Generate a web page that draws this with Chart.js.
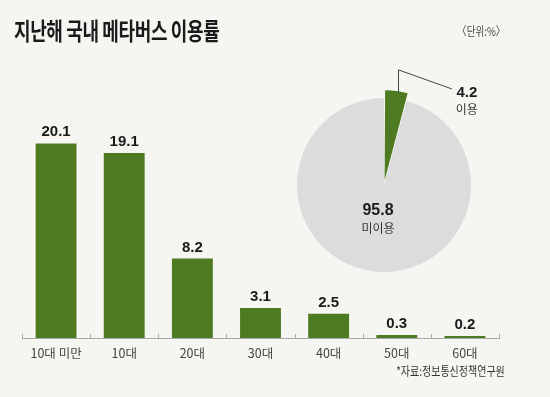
<!DOCTYPE html>
<html><head><meta charset="utf-8">
<script src="https://cdn.jsdelivr.net/npm/chart.js@4"></script>
<style>
html,body{margin:0;padding:0;background:#f5f6f1;}
#wrap{position:relative;width:550px;height:397px;overflow:hidden;background:#f5f6f1;}
#title{position:absolute;left:14px;top:15px;font-family:"Noto Sans CJK KR";font-weight:700;font-size:24px;line-height:30px;color:#1a1a1a;white-space:nowrap;transform:scaleX(0.75);transform-origin:left top;letter-spacing:-0.5px;}
#unit{position:absolute;right:45px;top:24px;font-family:"Noto Sans CJK KR";font-size:12px;line-height:14px;color:#444;white-space:nowrap;transform:scaleX(0.8);transform-origin:right top;}
#src{position:absolute;right:45px;top:363px;font-family:"Noto Sans CJK KR";font-size:12.5px;line-height:16px;color:#333;white-space:nowrap;transform:scaleX(0.8);transform-origin:right top;}
canvas{position:absolute;}
#bar{left:0;top:0;}
#pie{left:264px;top:65px;}
</style></head>
<body><div id="wrap">
<canvas id="bar" width="550" height="397"></canvas>
<canvas id="pie" width="240" height="240"></canvas>
<div id="title">지난해 국내 메타버스 이용률</div>
<div id="unit">〈단위:%〉</div>
<div id="src">*자료:정보통신정책연구원</div>
</div>
<script>
const categories = ["10대 미만","10대","20대","30대","40대","50대","60대"];
const usageByAge = [20.1,19.1,8.2,3.1,2.5,0.3,0.2];
const pieLabels = ["이용","미이용"];
const pieValues = [4.2,95.8];

const GREEN = "#4e7a22";
const GRAY = "#dcdcdc";

const barLabels = {
  id:"barLabels",
  afterDatasetsDraw(chart){
    const ctx = chart.ctx;
    const meta = chart.getDatasetMeta(0);
    ctx.save();
    ctx.font = "bold 15px 'Liberation Sans'";
    ctx.fillStyle = "#1a1a1a";
    ctx.textAlign = "center";
    ctx.textBaseline = "alphabetic";
    meta.data.forEach((b,i)=>{
      ctx.fillText(usageByAge[i].toFixed(1), b.x, b.y - 7);
    });
    ctx.restore();
  },
  afterDraw(chart){
    const s = chart.scales.x;
    const ctx = chart.ctx;
    const n = categories.length;
    ctx.save();
    ctx.strokeStyle = "#aaaaaa";
    ctx.lineWidth = 1;
    for(let i=0;i<=n;i++){
      const x = Math.round(s.left + i*(s.width/n)) + 0.5;
      ctx.beginPath();
      ctx.moveTo(x, s.top);
      ctx.lineTo(x, s.top - 4);
      ctx.stroke();
    }
    ctx.restore();
  }
};

new Chart(document.getElementById("bar"), {
  type:"bar",
  data:{labels:categories, datasets:[{data:usageByAge, backgroundColor:GREEN, borderWidth:0, barPercentage:0.6, categoryPercentage:1}]},
  options:{
    responsive:false, animation:false, devicePixelRatio:1,
    layout:{padding:{left:22,right:51,top:96,bottom:28}},
    plugins:{legend:{display:false},tooltip:{enabled:false}},
    scales:{
      x:{offset:true, grid:{display:false, drawTicks:false}, border:{display:true,color:"#aaaaaa",width:1},
         ticks:{padding:8, color:"#444", font:{family:"'Noto Sans CJK KR'", size:12.5}}},
      y:{display:false, min:0, max:25}
    }
  },
  plugins:[barLabels]
});

const pieLabelsPlugin = {
  id:"pieLabels",
  afterDatasetsDraw(chart){
    const ctx = chart.ctx;
    const meta = chart.getDatasetMeta(0);
    const a = meta.data[0];
    const cx = a.x, cy = a.y;
    const mid = (a.startAngle + a.endAngle)/2;
    const r = a.outerRadius + a.options.offset;
    const px = cx + Math.cos(mid)*r, py = cy + Math.sin(mid)*r;
    ctx.save();
    ctx.strokeStyle = "#444";
    ctx.lineWidth = 1;
    ctx.beginPath();
    ctx.moveTo(Math.round(px)+0.5, py + 12);
    ctx.lineTo(Math.round(px)+0.5, py - 11);
    ctx.lineTo(px + 54, py + 8);
    ctx.stroke();
    ctx.textAlign = "center";
    ctx.fillStyle = "#1a1a1a";
    ctx.font = "bold 15px 'Liberation Sans'";
    ctx.textBaseline = "middle";
    ctx.fillText(pieValues[0].toFixed(1), px + 69, py + 12);
    ctx.font = "12px 'Noto Sans CJK KR'";
    ctx.fillStyle = "#333";
    ctx.fillText(pieLabels[0], px + 69, py + 29);
    ctx.font = "bold 16px 'Liberation Sans'";
    ctx.fillStyle = "#1a1a1a";
    ctx.fillText(pieValues[1].toFixed(1), cx - 6, cy + 26);
    ctx.font = "12px 'Noto Sans CJK KR'";
    ctx.fillStyle = "#333";
    ctx.fillText(pieLabels[1], cx - 6, cy + 43);
    ctx.restore();
  }
};

new Chart(document.getElementById("pie"), {
  type:"pie",
  data:{labels:pieLabels, datasets:[{data:pieValues, backgroundColor:[GREEN,GRAY], borderWidth:0, offset:[18,0]}]},
  options:{
    responsive:false, animation:false, devicePixelRatio:1,
    radius:87,
    layout:{padding:0},
    plugins:{legend:{display:false},tooltip:{enabled:false}}
  },
  plugins:[pieLabelsPlugin]
});
</script>
</body></html>
